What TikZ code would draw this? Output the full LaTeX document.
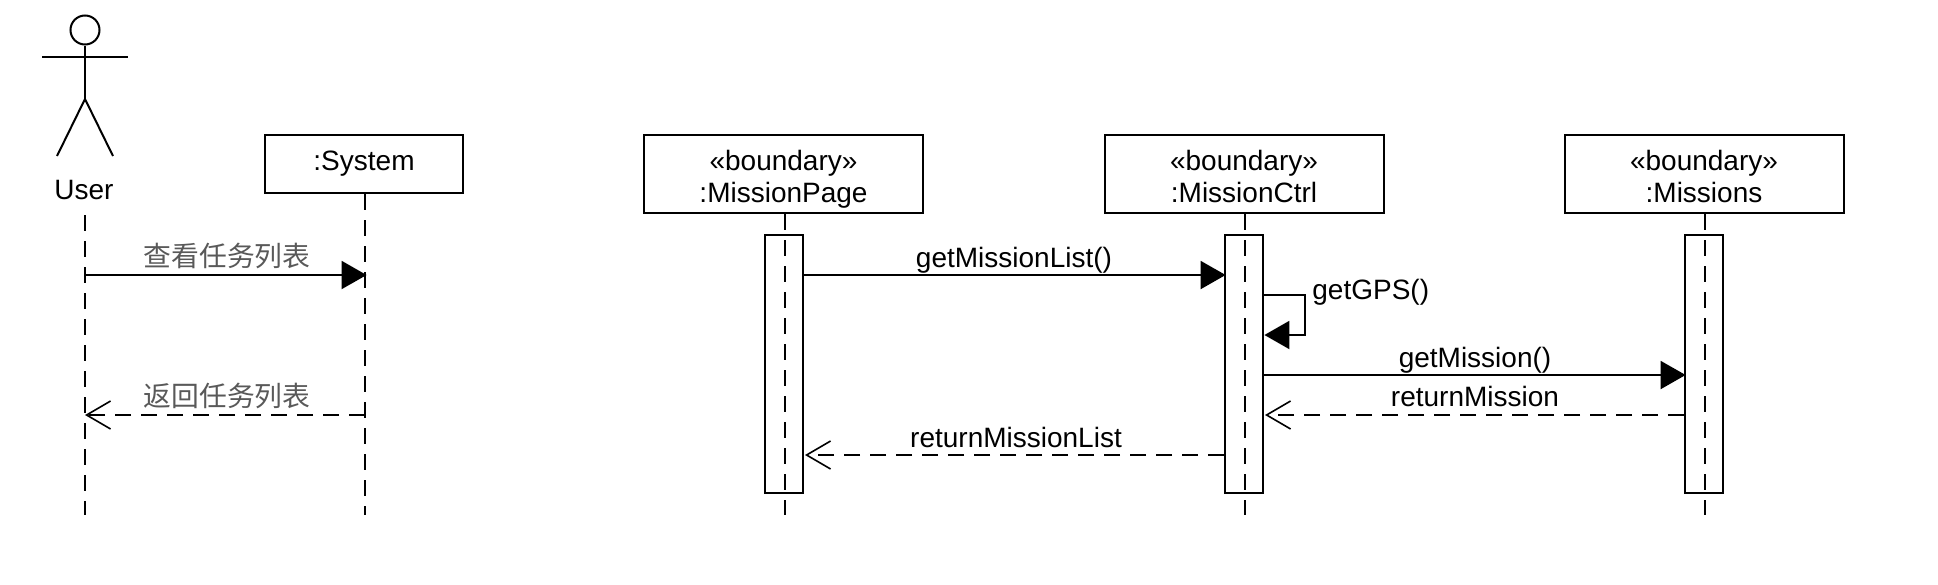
\documentclass[tikz,border=0pt]{standalone}
\usepackage{fontspec}
\setmainfont{Liberation Sans}
\newfontfamily\cjk{Noto Sans CJK SC}
\usetikzlibrary{arrows.meta}
\definecolor{cjkgray}{gray}{0.35}
\newcommand{\objtext}[1]{\rule{0pt}{17.5pt}«boundary»\\\strut #1}
\tikzset{
  lbl/.style={inner sep=0pt, font=\fontsize{14}{16}\selectfont},
  cjklbl/.style={lbl, text=cjkgray, font=\fontsize{13.9}{16}\selectfont\cjk},
  objbox/.style={lbl, draw, line width=1pt, align=center, minimum width=139.5pt, minimum height=39pt},
  sysbox/.style={objbox, minimum width=99pt, minimum height=29pt},
  bar/.style={draw, line width=1pt, inner sep=0pt, minimum width=19pt, minimum height=129pt},
  life/.style={line width=0.8pt, dash pattern=on 8pt off 5pt},
  call/.style={line width=1pt, shorten >=-0.8pt, -{Triangle[length=12.5pt,width=14pt]}},
  ret/.style={line width=0.8pt, dash pattern=on 8pt off 5pt, -{Straight Barb[length=12pt,width=14pt,line width=0.8pt]}},
  stick/.style={line width=1pt}
}
\begin{document}
\begin{tikzpicture}[x=0.5pt,y=-0.5pt]
  \useasboundingbox (0,0) rectangle (1938,584);
  % actor
  \node[draw, circle, line width=1pt, inner sep=0pt, minimum size=14.5pt] (head) at (85,30) {};
  \coordinate (hip) at (85,99);
  \coordinate (armL) at (42,57);
  \coordinate (armR) at (128,57);
  \coordinate (footL) at (57,156);
  \coordinate (footR) at (113,156);
  \draw[stick] (head.south) -- (hip);
  \draw[stick] (armL) -- (armR);
  \draw[stick] (footL) -- (hip) -- (footR);
  \node[lbl] (user) at (84,190) {User};
  \node[sysbox] (system) at (364,164) {:System};
  % boxes
  \node[objbox, inner sep=0pt] (page) at (783.5,174) {\objtext{:MissionPage}};
  \node[objbox, inner sep=0pt] (ctrl) at (1244,174) {\objtext{:MissionCtrl}};
  \node[objbox, inner sep=0pt] (missions) at (1704,174) {\objtext{:Missions}};
  % lifelines
  \coordinate (userTop) at (85,215);
  \foreach \N/\X in {user/85,system/365,page/785,ctrl/1245,missions/1705} {
    \coordinate (\N End) at (\X,515);
  }
  \draw[life] (userTop) -- (userEnd);
  \draw[life] (system.south -| systemEnd) -- (systemEnd);
  \draw[life] (page.south -| pageEnd) -- (pageEnd);
  \draw[life] (ctrl.south -| ctrlEnd) -- (ctrlEnd);
  \draw[life] (missions.south -| missionsEnd) -- (missionsEnd);
  % bars
  \node[bar] (pageBar) at (784,364) {};
  \node[bar] (ctrlBar) at (1244,364) {};
  \node[bar] (missionsBar) at (1704,364) {};
  % left messages
  \draw[call] (userEnd |- 0,275) -- (systemEnd |- 0,275);
  \node[cjklbl] (viewList) at (227,256) {查看任务列表};
  \draw[ret] (systemEnd |- 0,415) -- (userEnd |- 0,415);
  \node[cjklbl] (backList) at (227,396) {返回任务列表};
  % right messages
  \draw[call] (pageBar.east |- 0,275) -- (ctrlBar.west |- 0,275);
  \node[lbl] (getList) at (1014,260) {getMissionList()};
  \draw[call] (ctrlBar.east |- 0,295) -| (1305,335) -- ([xshift=1pt]ctrlBar.east |- 0,335);
  \node[lbl, anchor=west] (getGps) at (1312,292) {getGPS()};
  \draw[call] (ctrlBar.east |- 0,375) -- (missionsBar.west |- 0,375);
  \node[lbl] (getOne) at (1475,360) {getMission()};
  \draw[ret] (missionsBar.west |- 0,415) -- ([xshift=0.5pt]ctrlBar.east |- 0,415);
  \node[lbl] (retOne) at (1475,396) {returnMission};
  \draw[ret] (ctrlBar.west |- 0,455) -- ([xshift=0.5pt]pageBar.east |- 0,455);
  \node[lbl] (retList) at (1016,437) {returnMissionList};
\end{tikzpicture}
\end{document}
